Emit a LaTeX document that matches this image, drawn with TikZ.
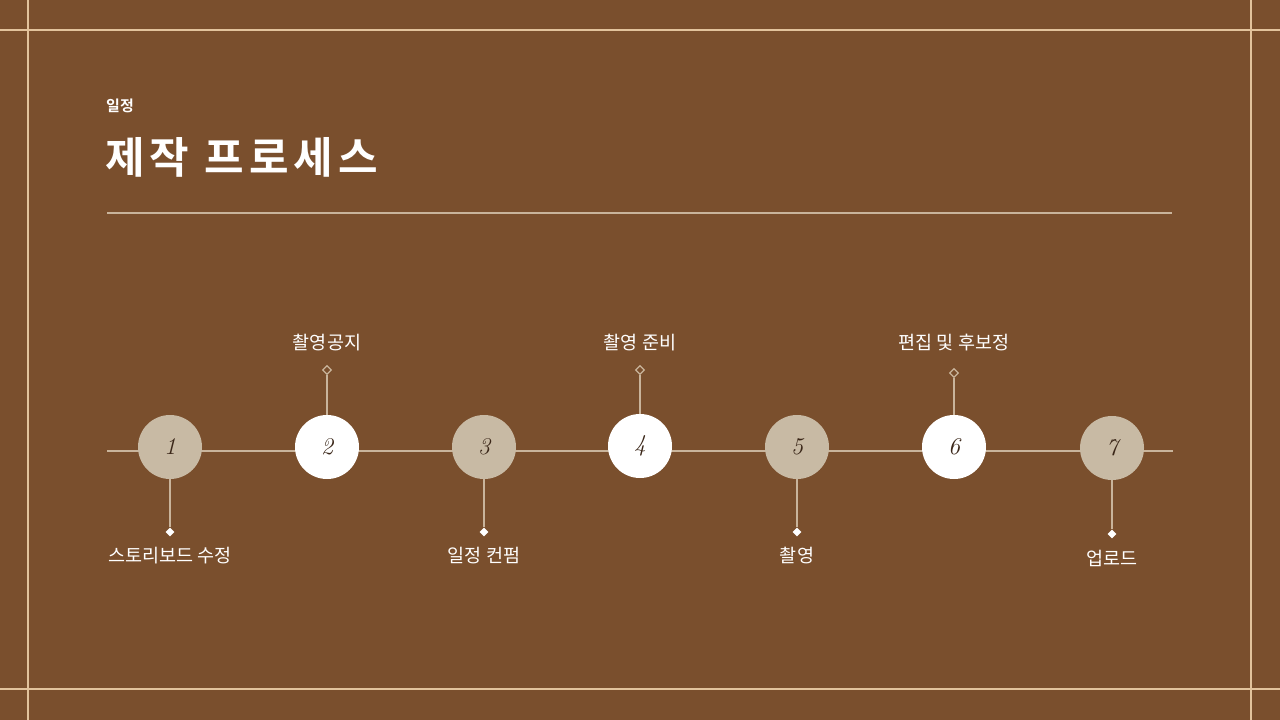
\documentclass[tikz,border=0pt]{standalone}
\usepackage{fontspec}
\newfontfamily\kr{Noto Sans CJK KR}
\newfontfamily\krb{Noto Sans CJK KR Bold}
\newfontfamily\krtitle[LetterSpace=12]{Noto Sans CJK KR Bold}
\usetikzlibrary{shapes.geometric}
\definecolor{bg}{HTML}{7A4F2D}
\definecolor{linec}{HTML}{C9B49B}
\definecolor{framec}{HTML}{E2C39C}
\definecolor{beige}{HTML}{C8BAA4}
\definecolor{numc}{HTML}{3A2618}
\tikzset{
  stepdot/.style={circle, minimum size=64pt, inner sep=0pt, draw=none, font=\itshape\fontsize{24}{24}\selectfont, text=numc},
  beigedot/.style={stepdot, fill=beige},
  whitedot/.style={stepdot, fill=white},
  linkline/.style={draw=linec, line width=1.6pt},
  hollowmark/.style={diamond, minimum size=9pt, inner sep=0pt, draw=linec, line width=1.2pt, fill=bg},
  solidmark/.style={diamond, minimum size=9pt, inner sep=0pt, fill=white},
  steplabel/.style={text=white, font=\kr\fontsize{18.5}{20}\selectfont, inner sep=0pt}
}
\begin{document}
\begin{tikzpicture}[x=1pt,y=-1pt]
\fill[bg] (0,0) rectangle (1280,720);
\useasboundingbox (0,0) rectangle (1280,720);
% frame lines
\draw[framec, line width=1.1pt] (0,30) -- (1280,30);
\draw[framec, line width=1.1pt] (0,689) -- (1280,689);
\draw[framec, line width=1.1pt] (28,0) -- (28,720);
\draw[framec, line width=1.1pt] (1251,0) -- (1251,720);
% titles
\node[anchor=west, text=white, font=\krb\fontsize{15}{16}\selectfont, inner sep=0pt] (sub) at (106,106) {일정};
\node[anchor=west, text=white, font=\krtitle\fontsize{43}{46}\selectfont, inner sep=0pt] (title) at (105,157) {제작 프로세스};
\coordinate (sepL) at (107,213);
\coordinate (sepR) at (1172,213);
\draw[linec, line width=1.6pt] (sepL) -- (sepR);
% timeline
\coordinate (tlL) at (107,451);
\coordinate (tlR) at (1173,451);
\draw[linkline] (tlL) -- (tlR);
% circles
\node[beigedot] (c1) at (170,447) {1};
\node[whitedot] (c2) at (327,447) {2};
\node[beigedot] (c3) at (484,447) {3};
\node[whitedot] (c4) at (640,446) {4};
\node[beigedot] (c5) at (797,447) {5};
\node[whitedot] (c6) at (954,447) {6};
\node[beigedot] (c7) at (1112,448) {7};
% top markers
\node[hollowmark] (m2) at (327,370) {};
\node[hollowmark] (m4) at (640,370) {};
\node[hollowmark] (m6) at (954,373) {};
\draw[linkline] (m2) -- (c2);
\draw[linkline] (m4) -- (c4);
\draw[linkline] (m6) -- (c6);
% bottom markers
\node[solidmark] (m1) at (170,532) {};
\node[solidmark] (m3) at (484,532) {};
\node[solidmark] (m5) at (797,532) {};
\node[solidmark] (m7) at (1112,534) {};
\draw[linkline] (c1) -- (m1);
\draw[linkline] (c3) -- (m3);
\draw[linkline] (c5) -- (m5);
\draw[linkline] (c7) -- (m7);
% labels
\node[steplabel] (l2) at (327,343) {촬영공지};
\node[steplabel] (l4) at (640,343) {촬영 준비};
\node[steplabel] (l6) at (954,343) {편집 및 후보정};
\node[steplabel] (l1) at (170,556) {스토리보드 수정};
\node[steplabel] (l3) at (484,556) {일정 컨펌};
\node[steplabel] (l5) at (797,556) {촬영};
\node[steplabel] (l7) at (1112,558) {업로드};
\end{tikzpicture}
\end{document}
